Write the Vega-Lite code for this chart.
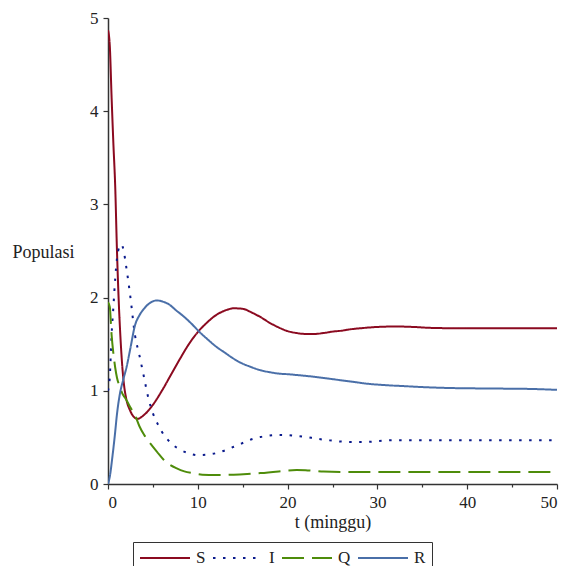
{
  "$schema": "https://vega.github.io/schema/vega-lite/v6.json",
  "autosize": "none",
  "width": 449,
  "height": 466,
  "padding": {"left": 108, "top": 18, "right": 12, "bottom": 82},
  "background": "white",
  "config": {
    "view": {"stroke": null},
    "axis": {
      "grid": false,
      "domainColor": "#333333",
      "domainWidth": 1.5,
      "tickColor": "#333333",
      "tickWidth": 1.2,
      "labelFont": "Liberation Serif",
      "labelFontSize": 17,
      "labelColor": "#222222",
      "titleFont": "Liberation Serif",
      "titleFontSize": 18,
      "titleFontWeight": "normal",
      "titleColor": "#222222"
    },
    "legend": {
      "labelFont": "Liberation Serif",
      "labelFontSize": 17,
      "labelColor": "#222222"
    }
  },
  "data": {
    "values": [
      {"t":0,"v":4.87,"k":"S"},{"t":0.2,"v":4.7,"k":"S"},{"t":0.4,"v":4.15,"k":"S"},{"t":0.6,"v":3.65,"k":"S"},{"t":0.8,"v":3.2,"k":"S"},{"t":1.0,"v":2.5,"k":"S"},{"t":1.2,"v":1.95,"k":"S"},{"t":1.4,"v":1.55,"k":"S"},{"t":1.6,"v":1.25,"k":"S"},{"t":1.8,"v":1.05,"k":"S"},{"t":2.0,"v":0.93,"k":"S"},{"t":2.5,"v":0.78,"k":"S"},{"t":3.0,"v":0.71,"k":"S"},{"t":3.3,"v":0.7,"k":"S"},{"t":4,"v":0.74,"k":"S"},{"t":5,"v":0.85,"k":"S"},{"t":6,"v":1.0,"k":"S"},{"t":7,"v":1.17,"k":"S"},{"t":8,"v":1.34,"k":"S"},{"t":9,"v":1.5,"k":"S"},{"t":10,"v":1.63,"k":"S"},{"t":11,"v":1.73,"k":"S"},{"t":12,"v":1.81,"k":"S"},{"t":13,"v":1.86,"k":"S"},{"t":14,"v":1.885,"k":"S"},{"t":15,"v":1.88,"k":"S"},{"t":16,"v":1.84,"k":"S"},{"t":17,"v":1.79,"k":"S"},{"t":18,"v":1.73,"k":"S"},{"t":19,"v":1.68,"k":"S"},{"t":20,"v":1.64,"k":"S"},{"t":21,"v":1.62,"k":"S"},{"t":22,"v":1.61,"k":"S"},{"t":23,"v":1.61,"k":"S"},{"t":24,"v":1.62,"k":"S"},{"t":25,"v":1.635,"k":"S"},{"t":26,"v":1.645,"k":"S"},{"t":27,"v":1.66,"k":"S"},{"t":28,"v":1.67,"k":"S"},{"t":30,"v":1.685,"k":"S"},{"t":32,"v":1.69,"k":"S"},{"t":34,"v":1.685,"k":"S"},{"t":36,"v":1.675,"k":"S"},{"t":40,"v":1.67,"k":"S"},{"t":45,"v":1.67,"k":"S"},{"t":50,"v":1.67,"k":"S"},
      {"t":0,"v":1.0,"k":"I"},{"t":0.2,"v":1.15,"k":"I"},{"t":0.4,"v":1.6,"k":"I"},{"t":0.6,"v":1.9,"k":"I"},{"t":0.8,"v":2.2,"k":"I"},{"t":1.0,"v":2.42,"k":"I"},{"t":1.25,"v":2.54,"k":"I"},{"t":1.5,"v":2.57,"k":"I"},{"t":1.75,"v":2.5,"k":"I"},{"t":2.0,"v":2.35,"k":"I"},{"t":2.5,"v":2.0,"k":"I"},{"t":3.0,"v":1.6,"k":"I"},{"t":3.5,"v":1.38,"k":"I"},{"t":4.0,"v":1.15,"k":"I"},{"t":4.5,"v":0.92,"k":"I"},{"t":5,"v":0.76,"k":"I"},{"t":5.5,"v":0.65,"k":"I"},{"t":6,"v":0.56,"k":"I"},{"t":7,"v":0.44,"k":"I"},{"t":8,"v":0.37,"k":"I"},{"t":9,"v":0.33,"k":"I"},{"t":10,"v":0.31,"k":"I"},{"t":11,"v":0.315,"k":"I"},{"t":12,"v":0.33,"k":"I"},{"t":13,"v":0.36,"k":"I"},{"t":14,"v":0.4,"k":"I"},{"t":15,"v":0.44,"k":"I"},{"t":16,"v":0.48,"k":"I"},{"t":17,"v":0.505,"k":"I"},{"t":18,"v":0.52,"k":"I"},{"t":19,"v":0.527,"k":"I"},{"t":20,"v":0.525,"k":"I"},{"t":21,"v":0.515,"k":"I"},{"t":22,"v":0.505,"k":"I"},{"t":23,"v":0.49,"k":"I"},{"t":24,"v":0.475,"k":"I"},{"t":25,"v":0.465,"k":"I"},{"t":26,"v":0.455,"k":"I"},{"t":27,"v":0.45,"k":"I"},{"t":28,"v":0.45,"k":"I"},{"t":29,"v":0.452,"k":"I"},{"t":30,"v":0.46,"k":"I"},{"t":32,"v":0.47,"k":"I"},{"t":35,"v":0.47,"k":"I"},{"t":40,"v":0.47,"k":"I"},{"t":45,"v":0.47,"k":"I"},{"t":50,"v":0.47,"k":"I"},
      {"t":0,"v":1.95,"k":"Q"},{"t":0.2,"v":1.9,"k":"Q"},{"t":0.4,"v":1.6,"k":"Q"},{"t":0.6,"v":1.4,"k":"Q"},{"t":0.8,"v":1.25,"k":"Q"},{"t":1.0,"v":1.14,"k":"Q"},{"t":1.33,"v":1.04,"k":"Q"},{"t":1.6,"v":0.97,"k":"Q"},{"t":2.0,"v":0.91,"k":"Q"},{"t":2.5,"v":0.82,"k":"Q"},{"t":3.0,"v":0.74,"k":"Q"},{"t":3.5,"v":0.62,"k":"Q"},{"t":4.0,"v":0.53,"k":"Q"},{"t":4.67,"v":0.44,"k":"Q"},{"t":5.5,"v":0.34,"k":"Q"},{"t":6.2,"v":0.26,"k":"Q"},{"t":7,"v":0.2,"k":"Q"},{"t":7.6,"v":0.17,"k":"Q"},{"t":8.5,"v":0.135,"k":"Q"},{"t":9.5,"v":0.115,"k":"Q"},{"t":10.5,"v":0.1,"k":"Q"},{"t":12,"v":0.097,"k":"Q"},{"t":14,"v":0.1,"k":"Q"},{"t":15.5,"v":0.107,"k":"Q"},{"t":17,"v":0.117,"k":"Q"},{"t":19,"v":0.135,"k":"Q"},{"t":20,"v":0.145,"k":"Q"},{"t":21,"v":0.15,"k":"Q"},{"t":22,"v":0.148,"k":"Q"},{"t":23,"v":0.14,"k":"Q"},{"t":24,"v":0.133,"k":"Q"},{"t":26,"v":0.13,"k":"Q"},{"t":30,"v":0.13,"k":"Q"},{"t":40,"v":0.13,"k":"Q"},{"t":50,"v":0.13,"k":"Q"},
      {"t":0,"v":0,"k":"R"},{"t":0.2,"v":0.08,"k":"R"},{"t":0.5,"v":0.3,"k":"R"},{"t":0.78,"v":0.54,"k":"R"},{"t":1.0,"v":0.75,"k":"R"},{"t":1.33,"v":0.97,"k":"R"},{"t":1.7,"v":1.12,"k":"R"},{"t":2.08,"v":1.26,"k":"R"},{"t":2.5,"v":1.46,"k":"R"},{"t":3.0,"v":1.7,"k":"R"},{"t":3.5,"v":1.81,"k":"R"},{"t":4.0,"v":1.88,"k":"R"},{"t":4.5,"v":1.93,"k":"R"},{"t":5.0,"v":1.96,"k":"R"},{"t":5.4,"v":1.97,"k":"R"},{"t":6,"v":1.96,"k":"R"},{"t":6.9,"v":1.92,"k":"R"},{"t":7.5,"v":1.87,"k":"R"},{"t":8.4,"v":1.8,"k":"R"},{"t":9.3,"v":1.72,"k":"R"},{"t":10.2,"v":1.63,"k":"R"},{"t":11,"v":1.56,"k":"R"},{"t":12.1,"v":1.47,"k":"R"},{"t":13,"v":1.41,"k":"R"},{"t":13.9,"v":1.35,"k":"R"},{"t":14.8,"v":1.3,"k":"R"},{"t":15.8,"v":1.26,"k":"R"},{"t":17,"v":1.22,"k":"R"},{"t":18,"v":1.2,"k":"R"},{"t":19,"v":1.185,"k":"R"},{"t":20,"v":1.178,"k":"R"},{"t":21.5,"v":1.165,"k":"R"},{"t":23,"v":1.15,"k":"R"},{"t":25,"v":1.125,"k":"R"},{"t":27,"v":1.1,"k":"R"},{"t":29,"v":1.075,"k":"R"},{"t":31,"v":1.06,"k":"R"},{"t":33,"v":1.05,"k":"R"},{"t":35,"v":1.04,"k":"R"},{"t":38,"v":1.03,"k":"R"},{"t":42,"v":1.025,"k":"R"},{"t":47,"v":1.02,"k":"R"},{"t":50,"v":1.01,"k":"R"}
    ]
  },
  "mark": {"type": "line", "strokeWidth": 2, "interpolate": "monotone", "clip": true},
  "encoding": {
    "x": {
      "field": "t", "type": "quantitative",
      "scale": {"domain": [0, 50], "nice": false},
      "axis": {
        "title": "t (minggu)",
        "values": [0,5,10,15,20,25,30,35,40,45,50],
        "labelExpr": "datum.value % 10 === 0 ? datum.label : ''",
        "tickSize": {"condition": {"test": "datum.value % 10 === 0", "value": 5}, "value": 3},
        "labelPadding": 5,
        "titlePadding": 3
      }
    },
    "y": {
      "field": "v", "type": "quantitative",
      "scale": {"domain": [0, 5], "nice": false},
      "axis": {
        "title": "Populasi",
        "values": [0,0.5,1,1.5,2,2.5,3,3.5,4,4.5,5],
        "format": "d",
        "labelExpr": "datum.value % 1 === 0 ? datum.label : ''",
        "tickSize": {"condition": {"test": "datum.value % 1 === 0", "value": 5}, "value": 3},
        "labelPadding": 5,
        "titleAngle": 0,
        "titleAlign": "left",
        "titleBaseline": "middle",
        "titleX": -96,
        "titleY": 234
      }
    },
    "color": {
      "field": "k", "type": "nominal",
      "scale": {"domain": ["S", "I", "Q", "R"], "range": ["#8B0A20", "#0A1A8C", "#4E8C0A", "#4A6FA8"]},
      "legend": {
        "title": null,
        "orient": "none",
        "direction": "horizontal",
        "legendX": 25,
        "legendY": 524,
        "symbolType": "stroke",
        "symbolSize": 2500,
        "symbolStrokeWidth": 2,
        "clipHeight": 20,
        "labelOffset": 5,
        "columnPadding": 6,
        "padding": 6,
        "strokeColor": "#333333",
        "fillColor": "white"
      }
    },
    "strokeDash": {
      "field": "k", "type": "nominal",
      "scale": {"domain": ["S", "I", "Q", "R"], "range": [[1, 0], [2.5, 7.5], [22, 8], [1, 0]]},
      "legend": null
    }
  }
}
